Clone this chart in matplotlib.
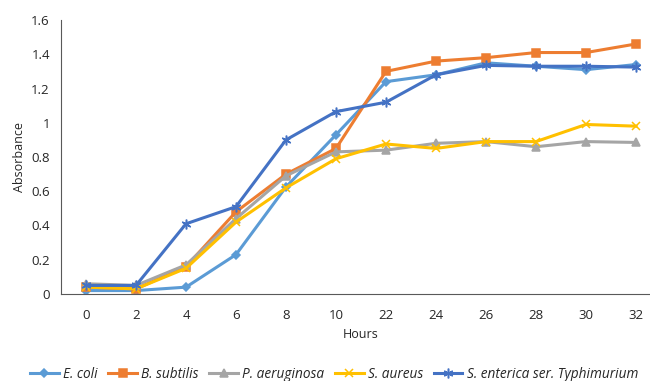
import matplotlib
matplotlib.use("Agg")
import matplotlib.pyplot as plt
import numpy as np

# ── data ───────────────────────────────────────────────────────────────────────
hours = ["0", "2", "4", "6", "8", "10", "22", "24", "26", "28", "30", "32"]

e_coli       = [0.02, 0.02, 0.04, 0.23, 0.625, 0.93, 1.24, 1.28, 1.35, 1.33, 1.31, 1.34]
b_subtilis   = [0.04, 0.03, 0.16, 0.48, 0.70, 0.85, 1.30, 1.36, 1.38, 1.41, 1.41, 1.46]
p_aeruginosa = [0.06, 0.05, 0.17, 0.44, 0.69, 0.83, 0.84, 0.88, 0.89, 0.86, 0.89, 0.885]
s_aureus     = [0.04, 0.03, 0.15, 0.42, 0.62, 0.79, 0.876, 0.85, 0.89, 0.89, 0.99, 0.98]
s_enterica   = [0.05, 0.05, 0.41, 0.51, 0.90, 1.065, 1.12, 1.28, 1.335, 1.33, 1.33, 1.325]

labels = ["E. coli", "B. subtilis", "P. aeruginosa", "S. aureus",
          "S. enterica ser. Typhimurium"]

# ── style ──────────────────────────────────────────────────────────────────────
plt.rcParams["font.family"] = ["Open Sans", "DejaVu Sans"]
TEXT_COL = "#262626"
AXIS_COL = "#595959"

series = [
    (e_coli,       "#5B9BD5", "D", 4),
    (b_subtilis,   "#ED7D31", "s", 5.5),
    (p_aeruginosa, "#A5A5A5", "^", 5.5),
    (s_aureus,     "#FFC000", "x", 6),
    (s_enterica,   "#4472C4", (6, 2, 0), 7),
]

fig = plt.figure(figsize=(6.5, 3.81), dpi=100)
ax = fig.add_axes([61 / 650, 1 - 294 / 381, 600 / 650, 274 / 381])

x = np.arange(len(hours))
for (vals, col, mk, ms), lab in zip(series, labels):
    ax.plot(x, vals, color=col, lw=2.2, marker=mk, markersize=ms,
            markeredgecolor=col, markerfacecolor=col, markeredgewidth=1.1,
            label=lab)

ax.set_xlim(-0.5, len(hours) - 0.5)
ax.set_ylim(0, 1.6)
ax.set_xticks(x)
ax.set_xticklabels(hours)
ax.set_yticks([0, 0.2, 0.4, 0.6, 0.8, 1.0, 1.2, 1.4, 1.6])
ax.set_yticklabels(["0", "0.2", "0.4", "0.6", "0.8", "1", "1.2", "1.4", "1.6"])
ax.tick_params(length=0, labelsize=9.5, colors=TEXT_COL, pad=8)
ax.tick_params(axis="x", pad=11)

for side in ("top", "right"):
    ax.spines[side].set_visible(False)
for side in ("left", "bottom"):
    ax.spines[side].set_color(AXIS_COL)
    ax.spines[side].set_linewidth(0.8)

ax.set_xlabel("Hours", fontsize=9, color=TEXT_COL, labelpad=4)
ax.set_ylabel("Absorbance", fontsize=9, color=TEXT_COL, labelpad=4)

leg = fig.legend(loc="center", bbox_to_anchor=(334 / 650, 1 - 374 / 381),
                 ncol=5, frameon=False, handlelength=2.1, handletextpad=0.3,
                 columnspacing=0.8, prop={"style": "italic", "size": 9.8})
for t in leg.get_texts():
    t.set_color(TEXT_COL)

fig.savefig("out.png", dpi=100)
